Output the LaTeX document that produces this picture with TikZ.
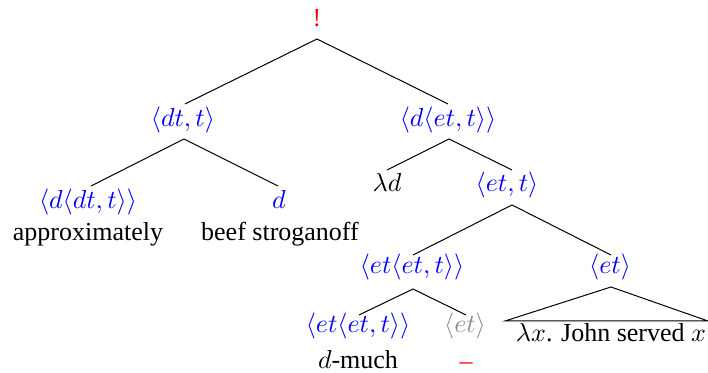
\documentclass[tikz,border=0pt]{standalone}
\usepackage{fontspec}
\setmainfont{LiberationSerif}[Extension=.ttf,UprightFont=*-Regular,ItalicFont=*-Italic,BoldFont=*-Bold]
\DeclareFontFamily{OML}{cmm}{\skewchar\font127}
\DeclareFontShape{OML}{cmm}{m}{it}{<->cmmi10}{}
\DeclareFontFamily{OMS}{cmsy}{\skewchar\font48}
\DeclareFontShape{OMS}{cmsy}{m}{n}{<->cmsy10}{}
\begin{document}
\begin{tikzpicture}[x=0.5pt,y=-0.5pt,
  lbl/.style={anchor=base,inner sep=0pt,outer sep=0pt,font=\fontsize{13}{15}\selectfont},
  ty/.style={lbl,text=blue},
  gy/.style={lbl,text=black!45},
  rd/.style={lbl,text=red},
  br/.style={line width=0.5pt,black}]
\useasboundingbox (0,0) rectangle (708,373);
% nodes
\node[rd] (root) at (317,27) {!};
\node[ty] (A) at (183,127) {$\langle dt,t\rangle$};
\node[ty] (B) at (448,127) {$\langle d\langle et,t\rangle\rangle$};
\node[ty] (A1) at (88,209) {$\langle d\langle dt,t\rangle\rangle$};
\node[lbl] (A1w) at (88,241) {approximately};
\node[ty] (A2) at (279,209) {$d$};
\node[lbl] (A2w) at (280,241) {beef stroganoff};
\node[lbl] (B1) at (387,192) {$\lambda d$};
\node[ty] (B2) at (507,192) {$\langle et,t\rangle$};
\node[ty] (C) at (412,274) {$\langle et\langle et,t\rangle\rangle$};
\node[ty] (D) at (610,274) {$\langle et\rangle$};
\node[ty] (C1) at (358,333) {$\langle et\langle et,t\rangle\rangle$};
\node[lbl] (C1w) at (358,369) {$d$-much};
\node[gy] (C2) at (465,333) {$\langle et\rangle$};
\node[rd] (C2w) at (466,370) {\textendash};
\node[lbl] (Dw) at (611,342) {$\lambda x$. John served $x$};
% branches
\draw[br] ([xshift=1pt,yshift=11.5pt]A.base) -- ([yshift=-6pt]root.base) -- ([yshift=11.5pt]B.base);
\draw[br] ([xshift=1.5pt,yshift=11.5pt]A1.base) -- ([xshift=0.5pt,yshift=-6pt]A.base) -- ([xshift=-0.5pt,yshift=11.5pt]A2.base);
\draw[br] ([yshift=11pt]B1.base) -- ([xshift=0.5pt,yshift=-6pt]B.base) -- ([xshift=2.5pt,yshift=11pt]B2.base);
\draw[br] ([xshift=0.5pt,yshift=9.5pt]C.base) -- ([xshift=2.5pt,yshift=-6.5pt]B2.base) -- ([xshift=0.5pt,yshift=9.5pt]D.base);
\draw[br] ([xshift=0.5pt,yshift=9pt]C1.base) -- ([xshift=0.5pt,yshift=-7.5pt]C.base) -- ([xshift=0.5pt,yshift=9pt]C2.base);
\draw[br] ([xshift=-53pt,yshift=10.5pt]Dw.base) -- ([xshift=0.5pt,yshift=-6.5pt]D.base) -- ([xshift=48.5pt,yshift=10.5pt]Dw.base) -- cycle;
\end{tikzpicture}
\end{document}
